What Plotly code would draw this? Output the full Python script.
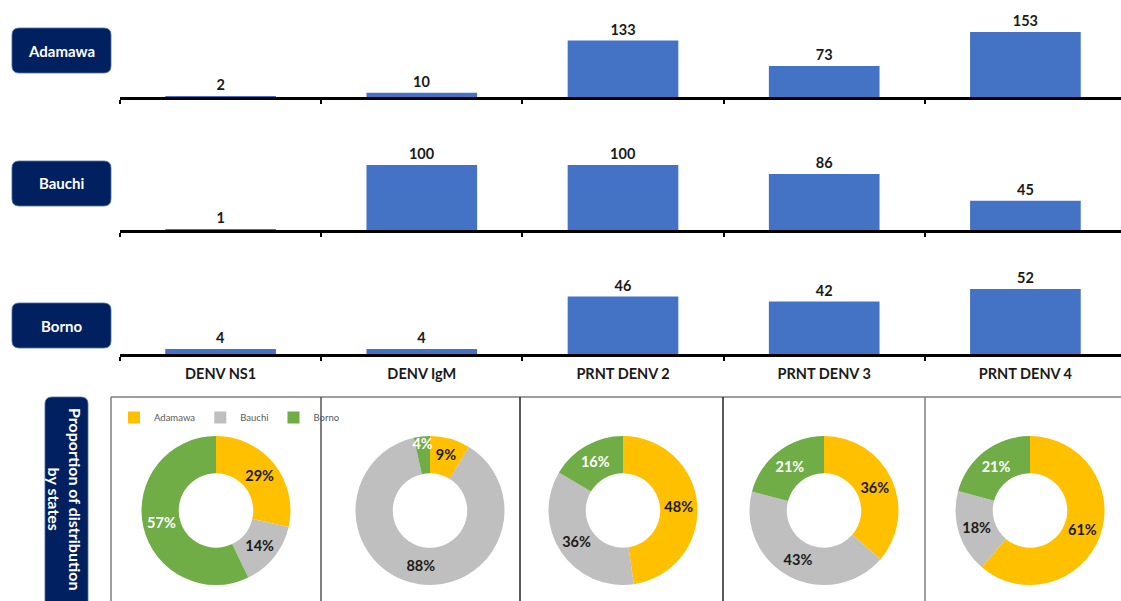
import plotly.graph_objects as go

# ---------------- data ----------------
categories = ["DENV NS1", "DENV IgM", "PRNT DENV 2", "PRNT DENV 3", "PRNT DENV 4"]
states = ["Adamawa", "Bauchi", "Borno"]
adamawa = [2, 10, 133, 73, 153]
bauchi = [1, 100, 100, 86, 45]
borno = [4, 4, 46, 42, 52]
side_title = "Proportion of distribution<br>by states"

# ---------------- style ----------------
W, H = 1121, 601
FONT = "Lato"
state_colors = ["#FFC000", "#BFBFBF", "#70AD47"]
label_colors = ["#1a1a1a", "#1a1a1a", "white"]
bar_color = "#4472C4"
navy = "#002060"


def px(x):
    return x / W


def py(y):
    return 1 - y / H


def rounded_rect(x0, y0, x1, y1, r):
    pts = [
        ("M", x0 + r, y0), ("L", x1 - r, y0), ("Q", x1, y0, x1, y0 + r),
        ("L", x1, y1 - r), ("Q", x1, y1, x1 - r, y1),
        ("L", x0 + r, y1), ("Q", x0, y1, x0, y1 - r),
        ("L", x0, y0 + r), ("Q", x0, y0, x0 + r, y0),
    ]
    s = ""
    for p in pts:
        cmd = p[0]
        coords = p[1:]
        parts = []
        for j in range(0, len(coords), 2):
            parts.append(f"{px(coords[j]):.5f},{py(coords[j+1]):.5f}")
        s += cmd + " " + " ".join(parts) + " "
    return s + "Z"


fig = go.Figure()

rows = [adamawa, bauchi, borno]
row_axis_y = [97, 230, 354]
row_h = 88
slot = 201.2
x_left = 120
x_domain = [px(x_left), 1.0]
x_range = [-0.5, -0.5 + (W - x_left) / slot]

for i, vals in enumerate(rows):
    n = i + 1
    xa = "x" if n == 1 else f"x{n}"
    ya = "y" if n == 1 else f"y{n}"
    fig.add_trace(go.Bar(
        x=categories, y=vals, xaxis=xa, yaxis=ya,
        marker=dict(color=bar_color, line=dict(width=0)), width=0.55,
        texttemplate="<b>%{y}</b>", textposition="outside",
        textfont=dict(family=FONT, size=14.5, color="#1a1a1a"),
        cliponaxis=False, showlegend=False, hoverinfo="skip",
    ))
    xkey = "xaxis" if n == 1 else f"xaxis{n}"
    ykey = "yaxis" if n == 1 else f"yaxis{n}"
    fig.layout[xkey] = dict(
        domain=x_domain, range=x_range, type="category",
        showline=True, linecolor="black", linewidth=2.5,
        ticks="outside", tickson="boundaries", ticklen=4, tickwidth=2,
        tickcolor="black", showgrid=False, zeroline=False,
        showticklabels=(n == 3), ticklabelstandoff=5,
        tickfont=dict(family=FONT, size=14.5, color="#1a1a1a", weight="bold"),
        anchor=ya, fixedrange=True,
    )
    fig.layout[ykey] = dict(
        domain=[py(row_axis_y[i]), py(row_axis_y[i] - row_h)],
        range=[0, max(vals) * row_h / 65], visible=False, anchor=xa,
        fixedrange=True,
    )

# ---------------- donuts ----------------
pie_cx = [216, 430, 623, 824, 1030]
pie_cy = 510.5
pie_r = 74.5
for k, cat in enumerate(categories):
    vals = [adamawa[k], bauchi[k], borno[k]]
    cx = pie_cx[k]
    fig.add_trace(go.Pie(
        labels=states, values=vals, hole=0.5, sort=False,
        direction="clockwise", rotation=0,
        marker=dict(colors=state_colors, line=dict(width=0)),
        texttemplate="<b>%{percent:.0%}</b>", textposition="inside",
        insidetextorientation="horizontal",
        textfont=dict(family=FONT, size=14.5, color=label_colors),
        domain=dict(x=[px(cx - pie_r), px(cx + pie_r)],
                    y=[py(pie_cy + pie_r), py(pie_cy - pie_r)]),
        showlegend=(k == 0), hoverinfo="label+percent",
    ))

shapes = []
# state label boxes
state_boxes = [(12, 28, 111, 73), (12, 161, 111, 206), (12, 303, 111, 348)]
for b in state_boxes:
    shapes.append(dict(type="path", path=rounded_rect(*b, 7), xref="paper", yref="paper",
                       fillcolor=navy, line=dict(width=0.8, color="#4a6fa5"), layer="above"))
# side title box
shapes.append(dict(type="path", path=rounded_rect(45, 397, 88, 620, 7), xref="paper", yref="paper",
                   fillcolor=navy, line=dict(width=0.8, color="#4a6fa5"), layer="above"))
# panel grid lines
shapes.append(dict(type="line", xref="paper", yref="paper", x0=px(111), x1=1.0, y0=py(397), y1=py(397),
                   line=dict(color="#7f7f7f", width=1.5)))
for vx, col in zip([111, 321, 520, 723, 925], ["#7f7f7f", "#555555", "#222222", "#222222", "#7f7f7f"]):
    shapes.append(dict(type="line", xref="paper", yref="paper", x0=px(vx), x1=px(vx), y0=py(397), y1=0,
                       line=dict(color=col, width=1.5)))

annotations = []
for b, s in zip(state_boxes, states):
    annotations.append(dict(x=px((b[0] + b[2]) / 2), y=py((b[1] + b[3]) / 2), xref="paper", yref="paper",
                            xanchor="center", yanchor="middle",
                            text=f"<b>{s}</b>", showarrow=False,
                            font=dict(family=FONT, size=15, color="white")))
annotations.append(dict(x=px(65), y=py(499), xref="paper", yref="paper", text=f"<b>{side_title}</b>",
                        xanchor="center", yanchor="middle",
                        textangle=90, showarrow=False,
                        font=dict(family=FONT, size=16, color="white")))

fig.update_layout(
    width=W, height=H, margin=dict(l=0, r=0, t=0, b=0),
    paper_bgcolor="white", plot_bgcolor="white",
    shapes=shapes, annotations=annotations,
    uniformtext=dict(minsize=14.5, mode="show"),
    bargap=0.45,
    legend=dict(orientation="h", x=px(114), y=py(403), xanchor="left", yanchor="top",
                font=dict(family=FONT, size=9.5, color="#595959"),
                bgcolor="rgba(0,0,0,0)", itemwidth=30, tracegroupgap=0),
    font=dict(family=FONT),
)

fig.write_html("out.html")
